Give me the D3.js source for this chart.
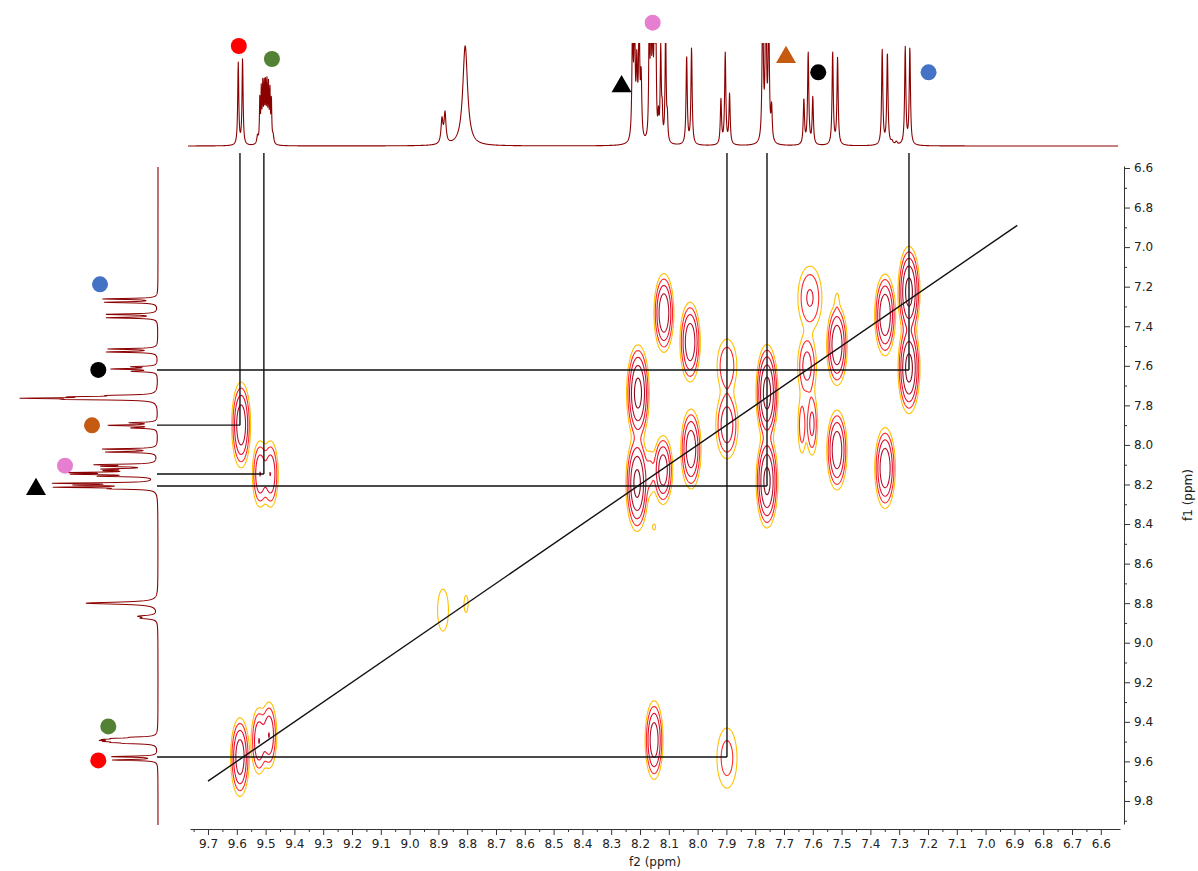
<!DOCTYPE html>
<html>
<head>
<meta charset="utf-8">
<script src="https://cdn.jsdelivr.net/npm/d3@7"></script>
<style>
  body { margin: 0; background: #fff; }
  svg { display: block; font-family: "DejaVu Sans", Verdana, sans-serif; }
</style>
</head>
<body>
<svg id="chart" width="1198" height="871"></svg>
<script>
// ---------- axis ticks (ppm) ----------
const f2Ticks = [9.7, 9.6, 9.5, 9.4, 9.3, 9.2, 9.1, 9.0, 8.9, 8.8, 8.7, 8.6, 8.5, 8.4, 8.3, 8.2,
                 8.1, 8.0, 7.9, 7.8, 7.7, 7.6, 7.5, 7.4, 7.3, 7.2, 7.1, 7.0, 6.9, 6.8, 6.7, 6.6];
const f1Ticks = [6.6, 6.8, 7.0, 7.2, 7.4, 7.6, 7.8, 8.0, 8.2, 8.4, 8.6, 8.8, 9.0, 9.2, 9.4, 9.6, 9.8];

// ---------- 1D proton spectrum along f2 (top): [shift ppm, height, half-width ppm] ----------
const topPeaks = [
  [9.595, 82, 0.0022], [9.580, 86, 0.0022],
  [9.528, 8, 0.003],
  [9.520, 44, 0.0016], [9.515, 50, 0.0016], [9.510, 54, 0.0016], [9.505, 55, 0.0016],
  [9.500, 56, 0.0016], [9.495, 55, 0.0016], [9.490, 53, 0.0016], [9.485, 50, 0.0016],
  [9.480, 42, 0.0016], [9.474, 8, 0.003],
  [8.8875, 24, 0.004], [8.877, 30, 0.004],
  [8.807, 100, 0.010],
  [8.226, 110, 0.0025], [8.219, 120, 0.0025], [8.211, 70, 0.0025], [8.203, 120, 0.0025], [8.196, 60, 0.0025],
  [8.168, 120, 0.0020], [8.162, 130, 0.0020], [8.156, 110, 0.0020], [8.150, 125, 0.0020], [8.145, 105, 0.0020],
  [8.136, 22, 0.0020], [8.128, 92, 0.0022], [8.123, 26, 0.0020], [8.111, 115, 0.0022], [8.105, 22, 0.0020],
  [8.038, 88, 0.0025], [8.021, 96, 0.0025],
  [7.919, 45, 0.0025], [7.904, 91, 0.0025], [7.889, 50, 0.0025],
  [7.774, 150, 0.0025], [7.763, 160, 0.0025], [7.753, 130, 0.0025], [7.743, 33, 0.0025],
  [7.631, 45, 0.0025], [7.616, 92, 0.0025], [7.600, 47, 0.0025],
  [7.531, 93, 0.0025], [7.514, 87, 0.0025],
  [7.359, 95, 0.0025], [7.341, 92, 0.0025], [7.325, 3, 0.004], [7.310, 3, 0.004],
  [7.279, 97, 0.0025], [7.263, 97, 0.0025]
];

// ---------- 1D proton spectrum along f1 (left): [shift ppm, height, half-width ppm] ----------
const leftPeaks = [
  [7.262, 54, 0.003], [7.279, 52, 0.003],
  [7.340, 52, 0.003], [7.357, 50, 0.003],
  [7.515, 48, 0.003], [7.530, 50, 0.003],
  [7.605, 24, 0.003], [7.616, 44, 0.003], [7.628, 24, 0.003],
  [7.750, 36, 0.003], [7.757, 66, 0.003], [7.764, 112, 0.003], [7.770, 70, 0.003],
  [7.888, 26, 0.003], [7.901, 48, 0.003], [7.914, 25, 0.003],
  [8.021, 54, 0.003], [8.036, 50, 0.003],
  [8.100, 56, 0.003], [8.108, 46, 0.003], [8.122, 46, 0.003], [8.130, 40, 0.003],
  [8.140, 76, 0.003], [8.148, 72, 0.003], [8.158, 52, 0.003],
  [8.194, 96, 0.003], [8.203, 68, 0.003], [8.214, 93, 0.003], [8.222, 36, 0.003],
  [8.800, 72, 0.006], [8.866, 17, 0.005], [8.876, 14, 0.005],
  [9.478, 18, 0.003], [9.484, 30, 0.003], [9.489, 34, 0.003], [9.494, 35, 0.003],
  [9.499, 33, 0.003], [9.504, 29, 0.003], [9.509, 22, 0.003],
  [9.576, 46, 0.003], [9.593, 44, 0.003]
];

// ---------- 2D COSY cross/diagonal peaks: [f2 ppm, f1 ppm, intensity, sigma f2, sigma f1] ----------
const cosyPeaks = [
  [9.585, 7.899, 24, 0.013, 0.086],
  [9.519, 8.147, 12, 0.012, 0.075],
  [9.483, 8.147, 12, 0.012, 0.075],
  [9.589, 9.578, 22, 0.013, 0.080],
  [9.523, 9.497, 12, 0.012, 0.075],
  [9.488, 9.467, 12, 0.012, 0.075],
  [8.884, 8.835, 2.0, 0.016, 0.090],
  [8.804, 8.804, 1.3, 0.0097, 0.060],
  [8.151, 9.492, 22, 0.0125, 0.080],
  [7.898, 9.583, 3.5, 0.022, 0.096],
  [8.117, 7.333, 26, 0.0135, 0.078],
  [8.026, 7.480, 24, 0.0140, 0.080],
  [8.207, 7.738, 40, 0.0145, 0.090],
  [8.210, 8.195, 38, 0.0145, 0.090],
  [8.120, 8.127, 22, 0.0135, 0.070],
  [8.165, 8.140, 3, 0.0110, 0.070],
  [8.151, 8.415, 1.15, 0.010, 0.028],
  [8.023, 8.021, 24, 0.0140, 0.080],
  [7.898, 7.601, 5, 0.019, 0.076],
  [7.898, 7.899, 10, 0.018, 0.080],
  [7.759, 7.738, 42, 0.0140, 0.090],
  [7.759, 8.183, 38, 0.0140, 0.088],
  [7.610, 7.257, 6, 0.022, 0.085],
  [7.620, 7.601, 8, 0.0160, 0.078],
  [7.6375, 7.899, 4, 0.0083, 0.085],
  [7.603, 7.894, 7, 0.0100, 0.080],
  [7.516, 7.495, 26, 0.0140, 0.080],
  [7.516, 7.267, 1.3, 0.006, 0.040],
  [7.516, 8.026, 24, 0.0140, 0.080],
  [7.349, 7.343, 28, 0.0140, 0.080],
  [7.349, 8.117, 26, 0.0140, 0.080],
  [7.266, 7.227, 40, 0.0140, 0.085],
  [7.266, 7.611, 40, 0.0140, 0.085]
];

// contour levels and their colours
const contourLevels = [1, 2.3, 5.3, 12, 28];
const contourColors = ["#ffc000", "#ff2b2b", "#e0102e", "#b0102a", "#850a1c"];

// assigned correlations: [f2 ppm of top peak, f1 ppm of the partner]
const correlations = [
  [9.589, 7.900],
  [9.506, 8.147],
  [7.898, 9.578],
  [7.759, 8.208],
  [7.266, 7.621]
];
const diagonalEnds = [9.70, 6.89];

// proton labels: [shape, colour, ppm, intensity level]
const topMarkers = [
  ["circle", "#ff0000", 9.593, 100],
  ["circle", "#548235", 9.478, 87],
  ["circle", "#e67fd0", 8.156, 123.3],
  ["triangle", "#000000", 8.264, 59.5],
  ["triangle", "#c55a11", 7.693, 88.8],
  ["circle", "#000000", 7.581, 73.7],
  ["circle", "#4472c4", 7.198, 73.7]
];
const leftMarkers = [
  ["circle", "#4472c4", 7.188, 58],
  ["circle", "#000000", 7.621, 59.7],
  ["circle", "#c55a11", 7.901, 66],
  ["circle", "#e67fd0", 8.105, 93],
  ["triangle", "#000000", 8.224, 122],
  ["circle", "#548235", 9.423, 49.7],
  ["circle", "#ff0000", 9.595, 59.7]
];

// ---------- layout ----------
const svg = d3.select("#chart");
const plot = { left: 190, right: 1120, top: 166, bottom: 824 };

const x = d3.scaleLinear().domain([9.7625, 6.5333]).range([plot.left, plot.right]);
const y = d3.scaleLinear().domain([6.5899, 9.9165]).range([plot.top, plot.bottom]);
const topI = d3.scaleLinear().domain([0, 100]).range([146, 46]);
const leftI = d3.scaleLinear().domain([0, 100]).range([158, 58]);

const specColor = "#8b0000";

function lorentz(peaks, ppm) {
  let s = 0;
  for (const [c, h, w] of peaks) {
    const d = ppm - c;
    s += h * w * w / (d * d + w * w);
  }
  return s;
}

// clip regions
const defs = svg.append("defs");
defs.append("clipPath").attr("id", "clipTop")
  .append("rect").attr("x", 180).attr("y", 43).attr("width", 950).attr("height", 115);
defs.append("clipPath").attr("id", "clipPlot")
  .append("rect").attr("x", plot.left).attr("y", plot.top)
  .attr("width", plot.right - plot.left).attr("height", plot.bottom - plot.top);

// ---------- top 1D spectrum ----------
const topData = [];
for (let px = 188; px <= 1118; px += 0.25) {
  const ppm = x.invert(px);
  topData.push({ ppm, v: lorentz(topPeaks, ppm) });
}
svg.append("path")
  .attr("clip-path", "url(#clipTop)")
  .attr("d", d3.line().x(d => x(d.ppm)).y(d => topI(d.v))(topData))
  .attr("fill", "none").attr("stroke", specColor).attr("stroke-width", 1.1)
  .attr("stroke-linejoin", "round");

// ---------- left 1D spectrum ----------
const leftData = [];
for (let py = 167; py <= 825; py += 0.25) {
  const ppm = y.invert(py);
  leftData.push({ ppm, v: lorentz(leftPeaks, ppm) });
}
svg.append("path")
  .attr("d", d3.line().x(d => leftI(d.v)).y(d => y(d.ppm))(leftData))
  .attr("fill", "none").attr("stroke", specColor).attr("stroke-width", 1.1)
  .attr("stroke-linejoin", "round");

// ---------- 2D contour map ----------
const step = 1;
const gx0 = plot.left, gy0 = plot.top;
const nx = Math.round((plot.right - plot.left) / step) + 1;
const ny = Math.round((plot.bottom - plot.top) / step) + 1;
const grid = new Float64Array(nx * ny);
const f2Grid = d3.range(nx).map(i => x.invert(gx0 + i * step));
const f1Grid = d3.range(ny).map(j => y.invert(gy0 + j * step));

for (const [c2, c1, amp, s2, s1] of cosyPeaks) {
  const pxC = x(c2), pyC = y(c1);
  const rx = Math.abs(x(c2 + 5 * s2) - pxC), ry = Math.abs(y(c1 + 5 * s1) - pyC);
  const i0 = Math.max(0, Math.floor((pxC - rx - gx0) / step));
  const i1 = Math.min(nx - 1, Math.ceil((pxC + rx - gx0) / step));
  const j0 = Math.max(0, Math.floor((pyC - ry - gy0) / step));
  const j1 = Math.min(ny - 1, Math.ceil((pyC + ry - gy0) / step));
  for (let j = j0; j <= j1; j++) {
    const e1 = ((f1Grid[j] - c1) / s1) ** 2;
    for (let i = i0; i <= i1; i++) {
      const e2 = ((f2Grid[i] - c2) / s2) ** 2;
      grid[i + j * nx] += amp * Math.exp(-0.5 * (e1 + e2));
    }
  }
}

const contours = d3.contours().size([nx, ny]).thresholds(contourLevels)(Array.from(grid));
const toScreen = d3.geoTransform({
  point(gx, gy) {
    const f2 = x.invert(gx0 + (gx - 0.5) * step);
    const f1 = y.invert(gy0 + (gy - 0.5) * step);
    this.stream.point(x(f2), y(f1));
  }
});
const contourPath = d3.geoPath(toScreen);
svg.append("g").attr("clip-path", "url(#clipPlot)")
  .selectAll("path").data(contours).join("path")
  .attr("d", contourPath)
  .attr("fill", "none")
  .attr("stroke", (d, i) => contourColors[i])
  .attr("stroke-width", 1.1)
  .attr("stroke-linejoin", "round");

// ---------- diagonal and correlation lines ----------
const lines = svg.append("g").attr("stroke", "#111").attr("stroke-width", 1.4).attr("fill", "none");
lines.append("line")
  .attr("x1", x(diagonalEnds[0])).attr("y1", y(diagonalEnds[0]))
  .attr("x2", x(diagonalEnds[1])).attr("y2", y(diagonalEnds[1]));
for (const [f2, f1] of correlations) {
  lines.append("line").attr("x1", x(f2)).attr("x2", x(f2)).attr("y1", 153).attr("y2", y(f1));
  lines.append("line").attr("x1", leftI(0) - 1).attr("x2", x(f2)).attr("y1", y(f1)).attr("y2", y(f1));
}

// ---------- proton labels ----------
const tri = d3.symbol(d3.symbolTriangle, 173);
function drawMarker(g, shape, color, cx, cy) {
  if (shape === "circle") {
    g.append("circle").attr("cx", cx).attr("cy", cy).attr("r", 8).attr("fill", color);
  } else {
    g.append("path").attr("d", tri()).attr("transform", `translate(${cx},${cy})`).attr("fill", color);
  }
}
const markG = svg.append("g");
for (const [shape, color, ppm, lvl] of topMarkers) drawMarker(markG, shape, color, x(ppm), topI(lvl));
for (const [shape, color, ppm, lvl] of leftMarkers) drawMarker(markG, shape, color, leftI(lvl), y(ppm));

// ---------- axes ----------
const fmt = d3.format(".1f");
const axisB = svg.append("g").attr("transform", "translate(0,829)");
axisB.call(d3.axisBottom(x).tickValues(f2Ticks).tickFormat(fmt).tickSize(6).tickSizeOuter(0).tickPadding(4));
axisB.append("g").call(d3.axisBottom(x).tickValues(f2Ticks.map(v => v + 0.05)).tickFormat("").tickSize(3).tickSizeOuter(0))
  .select(".domain").remove();

const axisR = svg.append("g").attr("transform", "translate(1124,0)");
axisR.call(d3.axisRight(y).tickValues(f1Ticks).tickFormat(fmt).tickSize(6).tickSizeOuter(0).tickPadding(4));
axisR.append("g").call(d3.axisRight(y).tickValues(f1Ticks.map(v => v + 0.1)).tickFormat("").tickSize(3).tickSizeOuter(0))
  .select(".domain").remove();

svg.selectAll(".tick text").attr("font-size", 12).attr("fill", "#222")
  .attr("font-family", "'DejaVu Sans', Verdana, sans-serif");
svg.selectAll(".domain, .tick line").attr("stroke", "#333");

svg.append("text").attr("x", (plot.left + plot.right) / 2).attr("y", 866)
  .attr("text-anchor", "middle").attr("font-size", 12).attr("fill", "#222").text("f2 (ppm)");
svg.append("text").attr("transform", `translate(1192,${(plot.top + plot.bottom) / 2}) rotate(-90)`)
  .attr("text-anchor", "middle").attr("font-size", 12).attr("fill", "#222").text("f1 (ppm)");
</script>
</body>
</html>
